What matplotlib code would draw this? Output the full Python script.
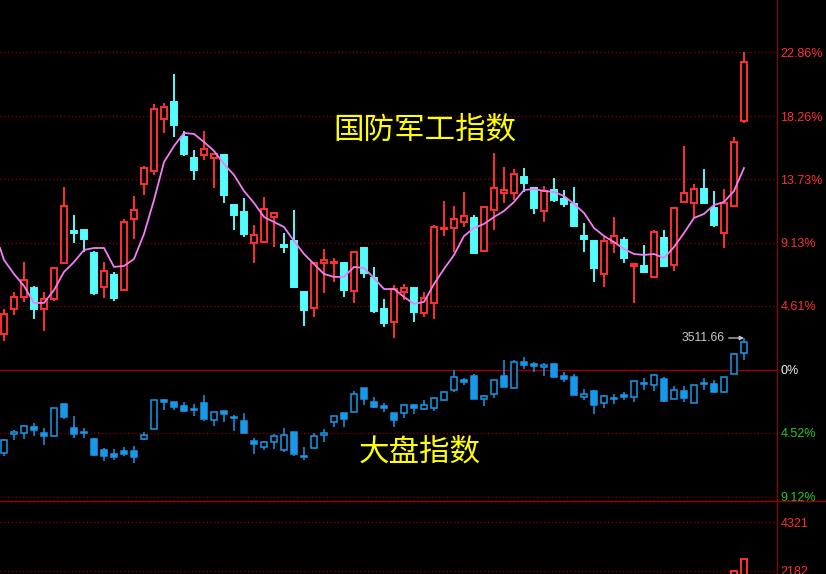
import numpy as np
import matplotlib
matplotlib.use('Agg')
import matplotlib.pyplot as plt
from matplotlib.lines import Line2D

plt.rcParams['font.family'] = ['Liberation Sans', 'DejaVu Sans']

# 国防军工指数, 相对涨跌幅 (%)
gf_open = [2.59, 4.39, 5.25, 5.90, 4.39, 5.10, 7.69, 9.99, 10.07, 8.41, 5.97, 6.83, 5.75, 10.86, 13.37,
           14.31, 18.05, 19.27, 16.75, 15.24, 15.46, 15.24, 15.46, 11.86, 11.36, 9.13, 9.20, 11.00, 8.99, 9.27,
           5.61, 4.46, 7.69, 7.69, 7.69, 5.68, 8.77, 6.61, 4.39, 3.45, 5.61, 5.90, 4.10, 4.82, 10.14,
           10.21, 10.64, 10.93, 8.56, 11.50, 12.73, 12.73, 13.88, 13.09, 11.43, 12.94, 12.29, 11.93, 9.63, 9.27,
           6.90, 9.13, 9.35, 7.48, 7.48, 6.69, 9.49, 7.55, 12.08, 12.01, 13.01, 11.65, 9.85, 11.79, 17.90]
gf_high = [4.39, 5.61, 7.76, 6.04, 5.61, 7.41, 13.16, 11.14, 10.07, 8.56, 7.76, 7.05, 10.86, 12.51, 14.67,
           19.13, 19.20, 21.28, 17.18, 15.82, 17.18, 15.53, 15.46, 11.86, 12.37, 10.43, 12.44, 11.36, 9.85, 11.50,
           5.68, 7.69, 8.70, 8.05, 7.69, 8.56, 8.84, 7.41, 5.10, 6.11, 6.18, 5.90, 5.61, 10.43, 12.15,
           11.79, 12.80, 11.14, 11.72, 15.60, 14.59, 14.45, 14.52, 13.09, 13.23, 13.80, 12.94, 13.16, 10.57, 9.27,
           9.56, 11.00, 9.56, 7.69, 8.99, 10.07, 10.07, 11.65, 16.10, 13.37, 14.45, 12.87, 13.01, 16.75, 22.86]
gf_low = [2.08, 3.95, 4.89, 3.67, 2.80, 4.96, 7.69, 9.13, 8.48, 5.39, 5.18, 4.96, 5.68, 9.42, 12.58,
          14.02, 17.04, 16.75, 15.39, 13.66, 15.10, 13.09, 12.01, 10.07, 9.56, 7.69, 9.13, 8.84, 8.41, 5.90,
          3.16, 3.81, 5.54, 6.33, 5.25, 4.82, 6.61, 4.10, 3.09, 2.30, 5.03, 3.45, 3.81, 3.67, 9.63,
          8.48, 10.28, 8.41, 8.48, 10.07, 12.01, 12.22, 12.80, 11.22, 10.64, 12.08, 11.72, 10.28, 8.48, 6.33,
          5.97, 8.41, 7.69, 4.82, 6.97, 6.69, 7.41, 7.12, 12.01, 10.93, 12.01, 10.28, 8.77, 11.72, 17.76]
gf_close = [4.03, 5.25, 6.47, 4.39, 5.10, 7.33, 11.79, 9.85, 9.42, 5.54, 7.12, 5.18, 10.64, 11.50, 14.52,
            18.77, 18.91, 17.62, 15.53, 14.38, 15.89, 15.53, 12.58, 11.14, 9.78, 9.71, 11.58, 11.29, 8.84, 5.97,
            4.31, 7.69, 7.91, 7.76, 5.75, 8.48, 6.97, 4.24, 3.38, 5.82, 5.90, 4.17, 5.18, 10.28, 10.21,
            10.86, 11.07, 8.41, 11.72, 13.09, 12.94, 14.09, 13.44, 11.65, 12.87, 12.22, 11.93, 10.35, 9.42, 7.33,
            9.27, 9.63, 8.05, 7.62, 7.05, 9.92, 7.48, 11.65, 12.73, 13.01, 12.01, 10.43, 12.01, 16.39, 22.14]
# 均线, 第一个点在最左边 (第一根K线之前)
ma_x = [-0.4] + list(range(75))
gf_ma = [8.77, 7.91, 6.90, 6.04, 4.82, 4.82, 5.75, 7.05, 7.76, 8.63, 8.77, 8.77, 7.41, 7.48, 7.98, 9.78,
         12.22, 14.95, 16.10, 17.04, 16.97, 16.39, 15.75, 14.81, 14.02, 12.87, 12.01, 11.00, 10.64, 10.28, 9.27,
         8.34, 7.62, 6.90, 6.69, 6.69, 7.41, 7.33, 6.61, 5.82, 5.82, 5.25, 4.75, 4.89, 6.18, 7.26,
         8.27, 9.63, 10.21, 10.50, 11.00, 11.43, 12.08, 12.94, 13.01, 12.87, 12.80, 12.51, 11.93, 11.29, 10.21,
         9.63, 9.20, 8.70, 8.34, 8.27, 8.34, 8.05, 8.84, 9.85, 10.93, 11.22, 11.86, 12.08, 12.87, 14.52]

# 大盘指数, 相对涨跌幅 (%)
dp_open = [-5.97, -4.60, -4.53, -4.10, -4.53, -4.75, -2.44, -4.17, -4.46, -4.96, -5.75, -6.04, -5.82, -5.82, -4.96,
           -4.24, -2.16, -2.30, -2.59, -2.80, -2.37, -3.60, -2.95, -3.38, -3.67, -5.10, -5.54, -5.18, -5.75, -4.46,
           -6.18, -5.61, -4.67, -3.74, -3.09, -3.02, -1.29, -2.30, -2.59, -3.09, -3.09, -2.52, -2.80, -2.73, -2.16,
           -1.44, -0.72, -0.43, -2.09, -1.73, -0.43, -1.29, 0.58, 0.43, 0.22, 0.43, -0.43, -0.50, -1.94, -1.51,
           -2.37, -2.09, -1.80, -1.94, -1.01, -1.08, -0.65, -2.09, -1.51, -2.37, -1.01, -1.01, -1.58, -0.29, 1.22]
dp_high = [-4.96, -4.31, -3.95, -3.81, -4.17, -2.73, -2.37, -3.31, -4.17, -4.89, -5.61, -5.68, -5.54, -5.46, -4.46,
           -2.16, -2.09, -2.30, -2.30, -2.44, -1.80, -3.02, -2.95, -3.24, -3.09, -4.89, -5.10, -4.60, -4.17, -4.46,
           -5.54, -4.53, -4.24, -3.31, -3.09, -1.51, -1.29, -1.94, -2.37, -3.09, -2.52, -2.44, -2.16, -1.94, -1.51,
           0.00, -0.58, -0.29, -1.80, -0.72, 0.72, 0.72, 0.93, 0.58, 0.50, 0.50, -0.14, -0.29, -1.37, -1.44,
           -1.80, -1.73, -1.58, -0.79, -0.58, -0.29, -0.50, -1.15, -1.15, -1.08, -0.58, -0.72, -0.50, 1.22, 2.30]
dp_low = [-6.18, -5.03, -4.96, -4.75, -5.39, -4.82, -3.52, -4.89, -4.89, -6.18, -6.54, -6.47, -6.18, -6.69, -5.03,
          -4.24, -2.88, -2.88, -3.02, -3.31, -3.67, -4.03, -3.74, -4.39, -4.53, -6.04, -5.75, -5.68, -5.90, -6.18,
          -6.47, -5.68, -5.18, -4.10, -4.10, -3.02, -2.52, -2.73, -3.02, -4.10, -3.45, -3.16, -2.88, -2.95, -2.23,
          -1.58, -1.08, -2.09, -2.59, -2.01, -1.22, -1.37, 0.07, -0.14, -0.43, -0.50, -0.86, -1.80, -2.16, -3.16,
          -2.73, -2.44, -2.16, -2.30, -1.44, -1.51, -2.30, -2.09, -2.30, -2.37, -1.44, -1.65, -1.65, -0.29, 0.72]
dp_close = [-5.03, -4.46, -4.03, -4.31, -4.75, -2.73, -3.38, -4.60, -4.53, -6.11, -6.18, -6.26, -6.04, -6.26, -4.67,
            -2.16, -2.30, -2.66, -2.95, -2.88, -3.52, -3.02, -3.16, -3.45, -4.53, -5.32, -5.18, -4.75, -4.67, -6.04,
            -6.26, -4.75, -4.53, -3.31, -3.52, -1.73, -2.09, -2.66, -2.73, -3.60, -2.52, -2.73, -2.52, -2.01, -1.58,
            -0.50, -0.86, -2.09, -1.87, -0.72, -1.22, 0.58, 0.36, 0.29, 0.36, -0.50, -0.65, -1.80, -1.73, -2.52,
            -1.87, -2.01, -1.94, -0.79, -0.93, -0.36, -2.23, -1.44, -2.01, -1.08, -0.93, -1.58, -0.50, 1.15, 2.01]
dp_last_high = '3511.66'

# 成交量 (只看得到最后两根)
vol_idx = [73, 74]
vol = [2190, 2706]

# 右侧刻度
gf_ticks = [22.86, 18.26, 13.73, 9.13, 4.61]
dp_ticks = [-4.52, -9.12]
vol_ticks = [4321, 2182]

RED = '#ff3030'
CYAN = '#54fcfc'
BLUE = '#1898e8'
GRID = '#9a0000'


def candles(ax, o, h, l, c, up_col, down_col, lw):
    o, h, l, c = map(np.asarray, (o, h, l, c))
    x = np.arange(len(o))
    up = c >= o
    cols = [up_col if u else down_col for u in up]
    faces = ['black' if u else down_col for u in up]
    bot = np.minimum(o, c)
    hgt = np.maximum(np.abs(c - o), 0.05)
    ax.vlines(x, l, h, colors=cols, lw=lw, zorder=2)
    ax.bar(x, hgt, bottom=bot, width=0.64, color=faces, edgecolor=cols,
           linewidth=lw, zorder=3)


fig = plt.figure(figsize=(8.26, 5.74), dpi=100, facecolor='black')
W, H = 826, 574
ax = fig.add_axes([0, 73 / H, 777 / W, 501 / H], facecolor='black')
ax.set_xlim(-0.4, 77.3)
ax.set_ylim(-9.42, 26.60)

for v in gf_ticks + dp_ticks:
    ax.axhline(v, color=GRID, lw=0.9, ls=(0, (1, 2)), zorder=1)
ax.axhline(0, color=GRID, lw=1.0, zorder=1)

candles(ax, gf_open, gf_high, gf_low, gf_close, RED, CYAN, 1.4)
candles(ax, dp_open, dp_high, dp_low, dp_close, BLUE, BLUE, 1.1)
ax.plot(ma_x, gf_ma, color='#f47cf4', lw=1.3, zorder=4, clip_on=False)

ax.annotate(dp_last_high, xy=(len(dp_high) - 1, dp_high[-1]), xytext=(-14, 0),
            textcoords='offset points', ha='right', va='center', color='#c8c8c8',
            fontsize=8.8, arrowprops=dict(arrowstyle='-|>', color='#c8c8c8', lw=0.9,
                                          mutation_scale=6, shrinkA=1, shrinkB=0))

ticks = gf_ticks + [0] + dp_ticks
labels = [f'{v:.2f}%' for v in gf_ticks] + ['0%'] + [f'{abs(v):.2f}%' for v in dp_ticks]
colors = [RED] * len(gf_ticks) + ['#f0f0f0'] + ['#20d020'] * len(dp_ticks)
ax.yaxis.tick_right()
ax.set_yticks(ticks)
ax.set_yticklabels(labels)
ax.tick_params(axis='y', length=0, pad=2.5, labelsize=9)
for lab, col in zip(ax.get_yticklabels(), colors):
    lab.set_color(col)
ax.set_xticks([])
for s in ['top', 'left', 'bottom']:
    ax.spines[s].set_visible(False)
ax.spines['right'].set_color(GRID)

fig.text(425 / W, 1 - 130 / H, '国防军工指数', color='#ffff00', fontsize=22,
         family='Noto Sans CJK SC', ha='center', va='center')
fig.text(420 / W, 1 - 452 / H, '大盘指数', color='#ffff00', fontsize=22,
         family='Noto Sans CJK SC', ha='center', va='center')

# 成交量区域
vx = fig.add_axes([0, 0, 777 / W, 73 / H], facecolor='black')
vx.set_xlim(-0.4, 77.3)
vx.set_ylim(2051, 5238)
for v in vol_ticks:
    vx.axhline(v, color=GRID, lw=0.9, ls=(0, (1, 2)), zorder=1)
vx.bar(vol_idx, vol, width=0.64, color='black', edgecolor=RED, linewidth=1.4, zorder=3)
vx.yaxis.tick_right()
vx.set_yticks(vol_ticks)
vx.set_yticklabels([str(v) for v in vol_ticks])
vx.tick_params(axis='y', length=0, pad=2.5, labelsize=9, labelcolor=RED)
vx.set_xticks([])
for s in ['top', 'left', 'bottom']:
    vx.spines[s].set_visible(False)
vx.spines['right'].set_color(GRID)

fig.add_artist(Line2D([0, 1], [73 / H, 73 / H], transform=fig.transFigure,
                      color=GRID, lw=1.0))

fig.savefig('out.png', dpi=100, facecolor='black')
